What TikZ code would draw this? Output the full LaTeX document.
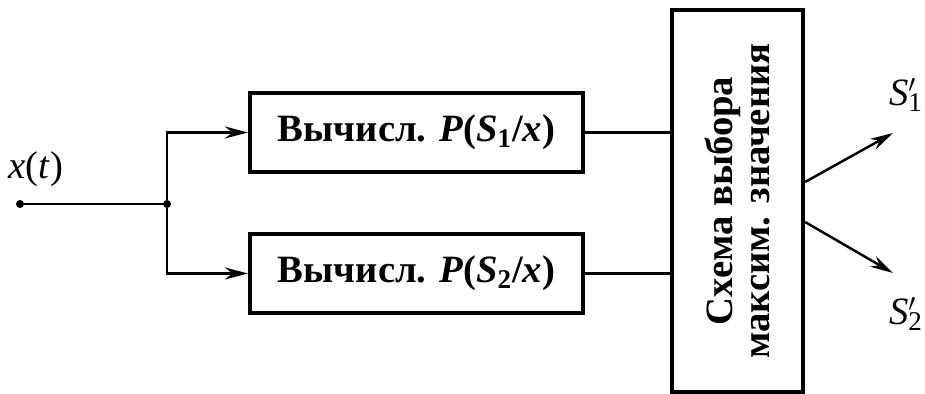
\documentclass[tikz,border=0pt]{standalone}
\usepackage{fontspec}
\setmainfont{LiberationSerif}[Extension=.ttf, UprightFont=*-Regular, BoldFont=*-Bold, ItalicFont=*-Italic, BoldItalicFont=*-BoldItalic]
\usetikzlibrary{arrows.meta, positioning, calc}

\newcommand{\outsym}[1]{\textit{S}\rlap{$'$}\textsubscript{#1}}

\begin{document}
\begin{tikzpicture}[
  block/.style={rectangle, draw, line width=2.4pt, minimum width=6.66cm, minimum height=1.58cm, align=center, font=\fontsize{22}{24}\selectfont\bfseries},
  selbox/.style={rectangle, draw, line width=2.4pt, minimum width=7.64cm, minimum height=2.62cm, align=center, rotate=90, font=\fontsize{22}{21.5}\selectfont\bfseries},
  wire/.style={line width=1.4pt},
  arrow/.style={wire, -{Stealth[length=4.6mm, width=2.4mm]}},
  dot/.style={circle, fill, inner sep=0pt, minimum size=1.6mm},
  lbl/.style={font=\fontsize{22}{24}\selectfont},
]
  \useasboundingbox (0,0) rectangle (18.5,7.88);

  % Input
  \node[dot] (in) at (0.4,3.8) {};
  \node[dot] (split) at (3.34,3.8) {};
  \node[lbl] (xt) at (0.72,4.5) {\textit{x}(\textit{t})};

  % Blocks
  \node[block] (calc1) at (8.33,5.23) {Вычисл. \textit{P}(\textit{S}\textsubscript{1}/\textit{x})};
  \node[block] (calc2) at (8.33,2.41) {Вычисл. \textit{P}(\textit{S}\textsubscript{2}/\textit{x})};
  \node[selbox] (select) at (14.75,3.86) {Схема выбора\\максим. значения};

  % Outputs
  \coordinate (out1) at (17.86,5.22);
  \coordinate (out2) at (17.86,2.42);
  \node[lbl] (s1) at (18.12,5.98) {\outsym{1}};
  \node[lbl] (s2) at (18.12,1.6) {\outsym{2}};

  \draw[wire] (in) -- (split);
  \draw[arrow] (split) |- (calc1);
  \draw[arrow] (split) |- (calc2);
  \draw[wire] (calc1) -- (calc1 -| select.north);
  \draw[wire] (calc2) -- (calc2 -| select.north);
  \draw[arrow] ($(select.south)+(0,0.38)$) -- (out1);
  \draw[arrow] ($(select.south)+(0,-0.42)$) -- (out2);
\end{tikzpicture}
\end{document}
